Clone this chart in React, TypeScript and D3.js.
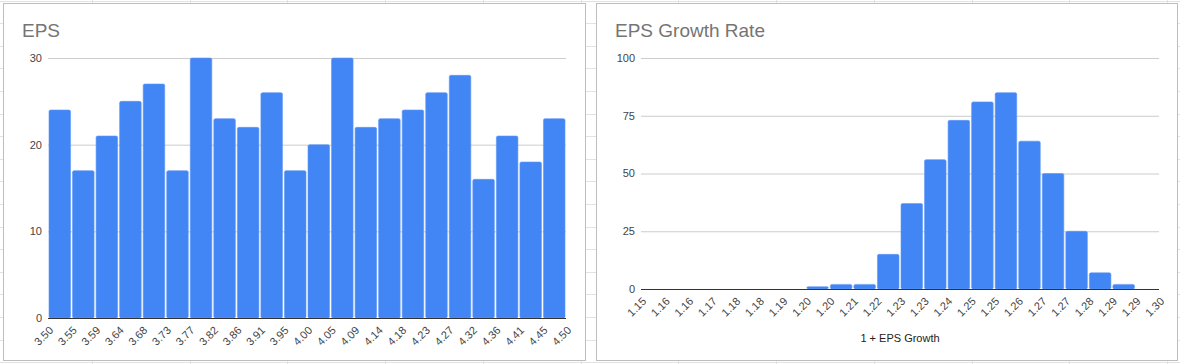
import React from "react";
import * as d3 from "d3";

const epsLabels = ["3.50","3.55","3.59","3.64","3.68","3.73","3.77","3.82","3.86","3.91","3.95","4.00","4.05","4.09","4.14","4.18","4.23","4.27","4.32","4.36","4.41","4.45","4.50"];
const epsCounts = [24,17,21,25,27,17,30,23,22,26,17,20,30,22,23,24,26,28,16,21,18,23];
const epsTicks = [0,10,20,30];

const growthLabels = ["1.15","1.16","1.16","1.17","1.18","1.18","1.19","1.20","1.20","1.21","1.22","1.23","1.23","1.24","1.25","1.25","1.26","1.27","1.27","1.28","1.29","1.29","1.30"];
const growthCounts = [0,0,0,0,0,0,0,1,2,2,15,37,56,73,81,85,64,50,25,7,2,0];
const growthTicks = [0,25,50,75,100];

const W = 1180, H = 364;
const FONT = "'Liberation Sans', Arial, sans-serif";
const BAR = "#4285F4";

type PanelProps = {
  x0: number; x1: number; y0: number; y1: number;
  title: string; labels: string[]; counts: number[]; ticks: number[];
  plotL: number; plotR: number; plotT: number; plotB: number;
  xTitle?: string;
};

function Panel(p: PanelProps) {
  const n = p.counts.length;
  const x = d3.scaleLinear().domain([0, n]).range([p.plotL, p.plotR]);
  const y = d3.scaleLinear().domain([0, d3.max(p.ticks) as number]).range([p.plotB, p.plotT]);
  return (
    <g>
      <rect x={p.x0 + 0.5} y={p.y0 + 0.5} width={p.x1 - p.x0} height={p.y1 - p.y0} fill="#fff" stroke="#bdbdbd" />
      <text x={p.x0 + 19} y={p.y0 + 34} fontSize={19} fill="#757575" fontFamily={FONT}>{p.title}</text>
      {p.ticks.map((t) => (
        <g key={t}>
          {t !== 0 && <line x1={p.plotL} x2={p.plotR} y1={y(t) + 0.5} y2={y(t) + 0.5} stroke="#cccccc" />}
          <text x={p.plotL - 6} y={y(t)} dy="0.35em" textAnchor="end" fontSize={11} fill="#444" fontFamily={FONT}>{t}</text>
        </g>
      ))}
      {p.counts.map((c, i) => {
        if (c <= 0) return null;
        const bx = x(i) + 1;
        const bw = x(i + 1) - x(i) - 2;
        const by = y(c);
        return <rect key={i} x={bx} y={by} width={bw} height={p.plotB - by} fill={BAR} stroke="#5f97f6" strokeWidth={0.6} rx={1.5} />;
      })}
      <line x1={p.plotL} x2={p.plotR} y1={p.plotB + 0.5} y2={p.plotB + 0.5} stroke="#333" />
      {p.labels.map((l, i) => (
        <text key={i} transform={`translate(${x(i) + 6},${p.plotB + 13}) rotate(-45)`} textAnchor="end" fontSize={11} fill="#444" fontFamily={FONT}>{l}</text>
      ))}
      {p.xTitle && (
        <text x={(p.plotL + p.plotR) / 2} y={p.plotB + 53} textAnchor="middle" fontSize={11} fill="#222" fontFamily={FONT}>{p.xTitle}</text>
      )}
    </g>
  );
}

export default function App() {
  const colXs = d3.range(-6, W, 97.75);
  const rowYs = d3.range(0.5, H, 22.6);
  return (
    <svg width={W} height={H} style={{ position: "absolute", left: 0, top: 0 }}>
      <rect x={0} y={0} width={W} height={H} fill="#fff" />
      {colXs.map((cx, i) => (
        <line key={"c" + i} x1={Math.round(cx) + 0.5} x2={Math.round(cx) + 0.5} y1={0} y2={H} stroke="#e2e2e2" />
      ))}
      {rowYs.map((ry, i) => (
        <line key={"r" + i} x1={0} x2={W} y1={Math.round(ry) + 0.5} y2={Math.round(ry) + 0.5} stroke="#e2e2e2" />
      ))}
      <Panel x0={3} x1={585} y0={3} y1={360} title="EPS" labels={epsLabels} counts={epsCounts} ticks={epsTicks}
        plotL={48} plotR={566} plotT={58} plotB={318} />
      <Panel x0={596} x1={1177} y0={3} y1={360} title="EPS Growth Rate" labels={growthLabels} counts={growthCounts} ticks={growthTicks}
        plotL={641} plotR={1159} plotT={58} plotB={289} xTitle="1 + EPS Growth" />
    </svg>
  );
}
